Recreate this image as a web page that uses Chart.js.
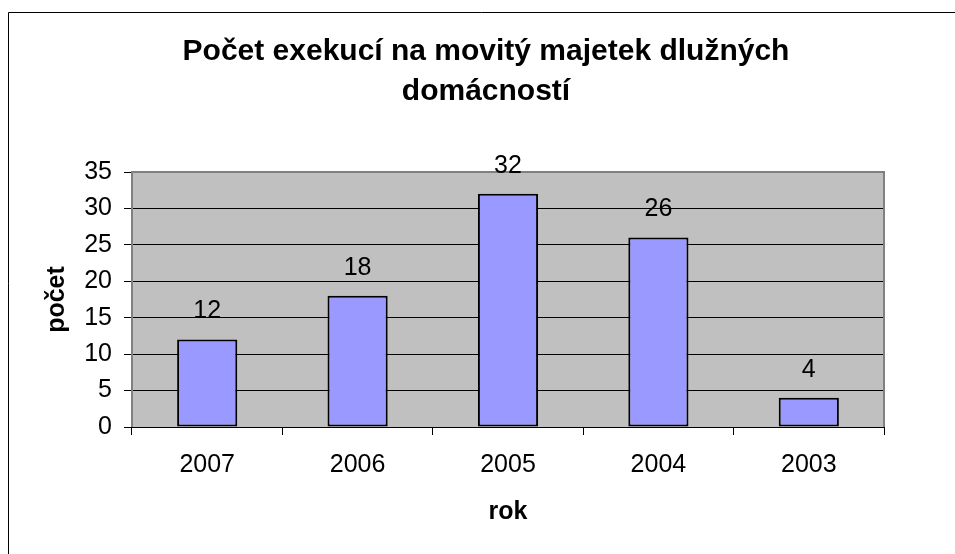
<!DOCTYPE html>
<html>
<head>
<meta charset="utf-8">
<script src="https://cdn.jsdelivr.net/npm/chart.js@4"></script>
<style>
  html, body { margin: 0; padding: 0; background: #fff; overflow: hidden; }
  #wrap { width: 955px; height: 554px; }
</style>
</head>
<body>
<div id="wrap"><canvas id="chart" width="955" height="554"></canvas></div>
<script>
// DATA
const years = ["2007", "2006", "2005", "2004", "2003"];
const counts = [12, 18, 32, 26, 4];
const titleLines = ["Počet exekucí na movitý majetek dlužných", "domácností"];
const yTicks = [0, 5, 10, 15, 20, 25, 30, 35];

const FONT = "'Liberation Sans', Arial, sans-serif";

// frame, title, plot background and border, value labels
const decor = {
  id: "decor",
  beforeDraw(chart) {
    const { ctx, chartArea: a } = chart;
    ctx.save();
    ctx.fillStyle = "#fff";
    ctx.fillRect(0, 0, chart.width, chart.height);
    // outer frame (only left and top edges are inside the picture)
    ctx.strokeStyle = "#000";
    ctx.lineWidth = 1;
    ctx.beginPath();
    ctx.moveTo(8.5, chart.height);
    ctx.lineTo(8.5, 12.5);
    ctx.lineTo(chart.width, 12.5);
    ctx.stroke();
    ctx.fillStyle = "#000";
    ctx.font = "bold 30px " + FONT;
    ctx.textAlign = "center";
    ctx.textBaseline = "alphabetic";
    titleLines.forEach((t, i) => ctx.fillText(t, 486, 60 + i * 40));
    ctx.fillStyle = "#c0c0c0";
    ctx.fillRect(a.left, a.top, a.right - a.left, a.bottom - a.top);
    ctx.restore();
  },
  beforeDatasetsDraw(chart) {
    const { ctx, chartArea: a } = chart;
    ctx.save();
    ctx.strokeStyle = "#808080";
    ctx.lineWidth = 2;
    ctx.beginPath();
    ctx.moveTo(a.left, a.bottom);
    ctx.lineTo(a.left, a.top);
    ctx.lineTo(a.right, a.top);
    ctx.lineTo(a.right, a.bottom);
    ctx.stroke();
    ctx.strokeStyle = "#000";
    ctx.lineWidth = 1;
    ctx.beginPath();
    ctx.moveTo(a.left, a.bottom + 0.5);
    ctx.lineTo(a.right, a.bottom + 0.5);
    ctx.stroke();
    ctx.restore();
  },
  afterDatasetsDraw(chart) {
    const { ctx } = chart;
    const meta = chart.getDatasetMeta(0);
    ctx.save();
    ctx.fillStyle = "#000";
    ctx.font = "25px " + FONT;
    ctx.textAlign = "center";
    ctx.textBaseline = "middle";
    meta.data.forEach((bar, i) => {
      ctx.fillText(String(counts[i]), bar.x, bar.y - 28);
    });
    ctx.restore();
  }
};

new Chart(document.getElementById("chart"), {
  type: "bar",
  data: {
    labels: years,
    datasets: [{
      data: counts,
      backgroundColor: "#9999ff",
      borderColor: "#000",
      borderWidth: 2,
      borderSkipped: false,
      barPercentage: 0.4,
      categoryPercentage: 1
    }]
  },
  options: {
    responsive: false,
    animation: false,
    devicePixelRatio: 1,
    layout: { padding: { top: 172, right: 71, bottom: 0, left: 0 } },
    plugins: {
      legend: { display: false },
      tooltip: { enabled: false },
      title: { display: false }
    },
    scales: {
      x: {
        afterFit(scale) { scale.height = 127; },
        grid: { drawOnChartArea: false, color: "#000", tickLength: 8, offset: true },
        border: { display: false },
        ticks: { color: "#000", font: { family: FONT, size: 25 }, padding: 15, maxRotation: 0 },
        title: {
          display: true, text: "rok", color: "#000",
          font: { family: FONT, size: 25, weight: "bold" },
          padding: { top: 0, bottom: 27 }
        }
      },
      y: {
        min: 0,
        max: 35,
        afterFit(scale) { scale.width = 132; },
        afterBuildTicks(scale) { scale.ticks = yTicks.map(v => ({ value: v })); },
        grid: { color: "#000", tickLength: 8 },
        border: { display: false },
        ticks: { color: "#000", font: { family: FONT, size: 25 }, padding: 12 },
        title: {
          display: true, text: "počet", color: "#000",
          font: { family: FONT, size: 25, weight: "bold" },
          padding: { top: 42, bottom: 0 }
        }
      }
    }
  },
  plugins: [decor]
});
</script>
</body>
</html>
